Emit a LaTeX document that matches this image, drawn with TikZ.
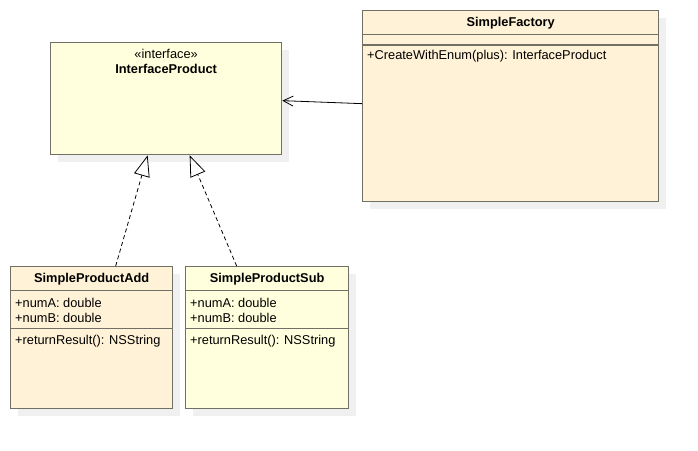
\documentclass[tikz,border=0pt]{standalone}
\usepackage{fontspec}
\setmainfont{Liberation Sans}
\usetikzlibrary{arrows.meta,shadows,calc}
\definecolor{lyel}{RGB}{255,255,221}
\definecolor{beige}{RGB}{255,242,214}
\definecolor{bord}{RGB}{112,112,102}
\definecolor{shad}{RGB}{240,240,240}
\begin{document}
\begin{tikzpicture}[x=1pt,y=-1pt,
  cls/.style={draw=bord, line width=1.3pt, anchor=north west, inner sep=0pt,
    drop shadow={shadow xshift=7pt, shadow yshift=-7pt, fill=shad, opacity=1}},
  div/.style={draw=bord, line width=1.1pt},
  txt/.style={font=\fontsize{12.8}{14}\selectfont, inner sep=0pt},
  btxt/.style={font=\fontsize{12.8}{14}\selectfont\bfseries, inner sep=0pt},
  ltxt/.style={font=\fontsize{12.8}{14}\selectfont, inner sep=0pt, anchor=west},
  real/.style={draw=black, line width=0.8pt, dash pattern=on 4pt off 3pt,
    -{Triangle[open, length=21pt, width=16pt, line width=0.8pt]}},
  assoc/.style={draw=black, line width=0.8pt,
    -{Straight Barb[length=10pt, width=10pt, line width=0.8pt]}}
]
\useasboundingbox (0,0) rectangle (698,450);
\fill[white] (0,0) rectangle (698,450);

% InterfaceProduct
\node[cls, fill=lyel, minimum width=231pt, minimum height=112pt] (ip) at (50,42) {};
\node[txt] (ipst) at ($(ip.north)+(0,11.5)$) {«interface»};
\node[btxt] (ipn) at ($(ip.north)+(0,26.5)$) {InterfaceProduct};

% SimpleFactory
\node[cls, fill=beige, minimum width=296pt, minimum height=191pt] (fac) at (362,10) {};
\node[btxt] (facn) at ($(fac.north)+(0,13.5)$) {SimpleFactory};
\draw[div] ($(fac.north west)+(0,24.5)$) -- ($(fac.north east)+(0,24.5)$);
\draw[div] ($(fac.north west)+(0,35)$) -- ($(fac.north east)+(0,35)$);
\node[ltxt] (facm) at ($(fac.north west)+(5,46.5)$) {+CreateWithEnum(plus): InterfaceProduct};

% SimpleProductAdd
\node[cls, fill=beige, minimum width=162pt, minimum height=142pt] (add) at (10,266) {};
\node[btxt] (addn) at ($(add.north)+(0,13.5)$) {SimpleProductAdd};
\draw[div] ($(add.north west)+(0,24.5)$) -- ($(add.north east)+(0,24.5)$);
\node[ltxt] (adda) at ($(add.north west)+(5,36.5)$) {+numA: double};
\node[ltxt] (addb) at ($(add.north west)+(5,51.5)$) {+numB: double};
\draw[div] ($(add.north west)+(0,62.5)$) -- ($(add.north east)+(0,62.5)$);
\node[ltxt] (addm) at ($(add.north west)+(5,75)$) {+returnResult(): NSString};

% SimpleProductSub
\node[cls, fill=lyel, minimum width=163pt, minimum height=142pt] (sub) at (185,266) {};
\node[btxt] (subn) at ($(sub.north)+(0,13.5)$) {SimpleProductSub};
\draw[div] ($(sub.north west)+(0,24.5)$) -- ($(sub.north east)+(0,24.5)$);
\node[ltxt] (suba) at ($(sub.north west)+(5,36.5)$) {+numA: double};
\node[ltxt] (subb) at ($(sub.north west)+(5,51.5)$) {+numB: double};
\draw[div] ($(sub.north west)+(0,62.5)$) -- ($(sub.north east)+(0,62.5)$);
\node[ltxt] (subm) at ($(sub.north west)+(5,75)$) {+returnResult(): NSString};

% connectors
\draw[assoc] ([yshift=2.5pt]fac.west) -- ([yshift=-2pt]ip.east);
\draw[real] ([xshift=24pt]add.north) -- ([xshift=-18.5pt]ip.south);
\draw[real] ([xshift=-30.5pt]sub.north) -- ([xshift=23.5pt]ip.south);
\end{tikzpicture}
\end{document}
